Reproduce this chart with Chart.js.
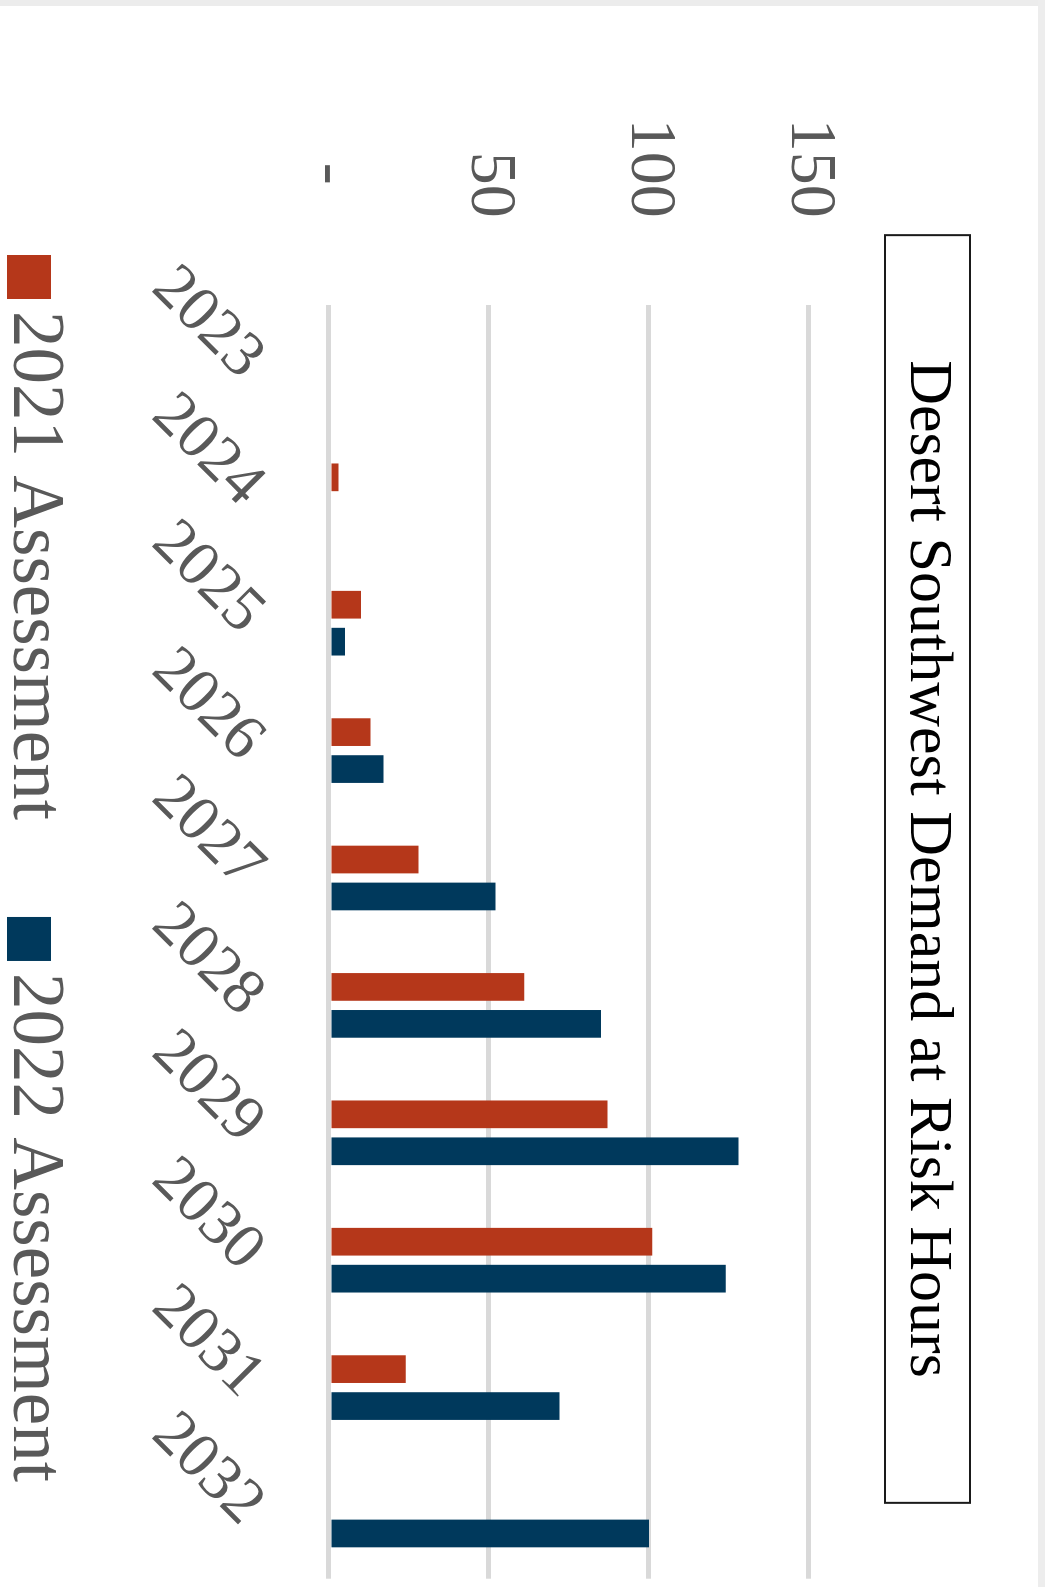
<!DOCTYPE html>
<html>
<head>
<meta charset="utf-8">
<script src="https://cdn.jsdelivr.net/npm/chart.js@4.4.1/dist/chart.umd.min.js"></script>
<style>
html,body{margin:0;padding:0;width:1045px;height:1587px;overflow:hidden;background:#fff;}
#rot{position:absolute;left:0;top:0;width:1738px;height:1061px;transform-origin:0 0;transform:translate(1045px,0) rotate(90deg);}
#topbar{position:absolute;left:0;top:0;width:1045px;height:6px;background:#ececec;}
#rightbar{position:absolute;right:0;top:0;width:7px;height:1587px;background:#ededed;}
</style>
</head>
<body>
<div id="rot"><canvas id="c" width="1738" height="1061"></canvas></div>
<div id="topbar"></div>
<div id="rightbar"></div>
<script>
const categories = ['2023','2024','2025','2026','2027','2028','2029','2030','2031','2032'];
const assessment2021 = [0, 3, 10, 13, 28, 61, 87, 101, 24, 0];
const assessment2022 = [0, 0, 5, 17, 52, 85, 128, 124, 72, 100];
const valueTicks = [0, 50, 100, 150];
const seriesNames = ['2021 Assessment', '2022 Assessment'];
const titleText = 'Desert Southwest Demand at Risk Hours';

const FONT = '"Liberation Serif", "Times New Roman", serif';
Chart.defaults.font.family = FONT;

const TITLE_PAD_TOP = 80.3, TITLE_PAD_BOTTOM = 81.3, TITLE_SIZE = 62;

const titleBoxPlugin = {
  id: 'titleBox',
  afterDraw(chart) {
    const tb = chart.titleBlock;
    if (!tb) return;
    const ctx = chart.ctx;
    ctx.save();
    ctx.font = TITLE_SIZE + 'px ' + FONT;
    const w = ctx.measureText(titleText).width;
    const cx = (tb.left + tb.right) / 2;
    const cy = tb.top + TITLE_PAD_TOP + TITLE_SIZE * 1.2 / 2;
    ctx.strokeStyle = '#1a1a1a';
    ctx.lineWidth = 2;
    ctx.strokeRect(cx - w / 2 - 125, cy - 42.5, w + 250, 85);
    ctx.restore();
  }
};

const legendPlugin = {
  id: 'customLegend',
  afterDraw(chart) {
    const ctx = chart.ctx;
    ctx.save();
    ctx.font = '73px ' + FONT;
    ctx.textBaseline = 'middle';
    ctx.textAlign = 'left';
    let x = 255;
    chart.data.datasets.forEach(ds => {
      ctx.fillStyle = ds.backgroundColor;
      ctx.fillRect(x, 994, 44, 44);
      ctx.fillStyle = '#595959';
      ctx.fillText(ds.label, x + 44 + 12, 1012);
      x += 44 + 12 + ctx.measureText(ds.label).width + 97;
    });
    ctx.restore();
  }
};

new Chart(document.getElementById('c'), {
  type: 'bar',
  data: {
    labels: categories,
    datasets: [
      { label: seriesNames[0], data: assessment2021, backgroundColor: '#B5371A', categoryPercentage: 0.58, barPercentage: 0.75 },
      { label: seriesNames[1], data: assessment2022, backgroundColor: '#00395C', categoryPercentage: 0.58, barPercentage: 0.75 }
    ]
  },
  options: {
    responsive: false,
    animation: false,
    layout: { padding: 0 },
    plugins: {
      legend: { display: false },
      tooltip: { enabled: false },
      title: {
        display: true,
        text: titleText,
        color: '#000',
        font: { size: TITLE_SIZE, weight: 'normal', family: FONT },
        padding: { top: TITLE_PAD_TOP, bottom: TITLE_PAD_BOTTOM }
      }
    },
    scales: {
      x: {
        grid: { display: false, drawTicks: false },
        border: { display: false },
        ticks: {
          color: '#595959',
          font: { size: 64, family: FONT },
          minRotation: 45, maxRotation: 45,
          padding: 49.5,
          autoSkip: false
        },
        afterFit(s) { s.height = 1061 - 716; }
      },
      y: {
        min: 0, max: 150,
        afterBuildTicks(s) { s.ticks = valueTicks.map(v => ({ value: v })); },
        grid: { color: '#d9d9d9', lineWidth: 5, drawTicks: false },
        border: { display: false },
        ticks: {
          color: '#595959',
          font: { size: 66, family: FONT },
          padding: 87,
          callback: v => v === 0 ? '-\u2007' : String(v)
        },
        afterFit(s) { s.width = 304.7; }
      },
      yRight: {
        position: 'right',
        display: true,
        grid: { display: false, drawTicks: false },
        border: { display: false },
        ticks: { display: false },
        afterFit(s) { s.width = 1738 - 1578.7; }
      }
    }
  },
  plugins: [titleBoxPlugin, legendPlugin]
});
</script>
</body>
</html>
